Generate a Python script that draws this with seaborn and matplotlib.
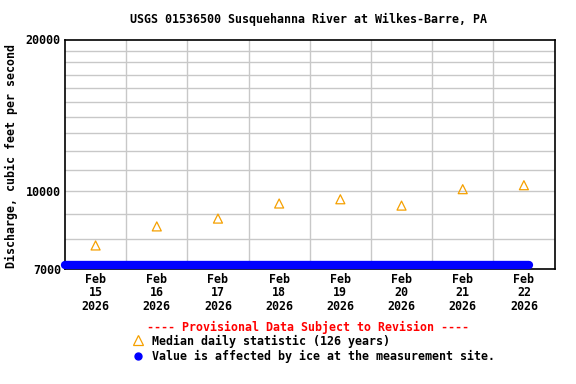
import pandas as pd
import matplotlib
matplotlib.use("Agg")
import matplotlib.pyplot as plt
from matplotlib.lines import Line2D
import seaborn as sns

# Wartosci
days = ["2026-02-15", "2026-02-16", "2026-02-17", "2026-02-18",
        "2026-02-19", "2026-02-20", "2026-02-21", "2026-02-22"]
median_cfs = [7780, 8490, 8800, 9430, 9615, 9340, 10070, 10255]
tick_labels = ["Feb\n15\n2026", "Feb\n16\n2026", "Feb\n17\n2026", "Feb\n18\n2026",
               "Feb\n19\n2026", "Feb\n20\n2026", "Feb\n21\n2026", "Feb\n22\n2026"]
ice_start = "2026-02-15 00:00"
ice_end = "2026-02-22 14:00"
ice_value = 7110  # punkty "ice" rysowane przy dolnej krawedzi
y_min, y_max = 7000, 20000
y_labels = [7000, 10000, 20000]

sns.set_theme(style="white")
plt.rcParams["font.family"] = ["DejaVu Sans Mono"]
plt.rcParams["font.weight"] = "bold"
for k in ["text.color", "axes.labelcolor", "xtick.color", "ytick.color"]:
    plt.rcParams[k] = "black"
fs = 8.4

med = pd.DataFrame({"time": pd.to_datetime(days) + pd.Timedelta(hours=12),
                    "cfs": median_cfs})
ice_t = pd.date_range(ice_start, ice_end, freq="15min")
ice = pd.DataFrame({"time": ice_t, "cfs": [ice_value] * len(ice_t)})

fig = plt.figure(figsize=(5.76, 3.84), dpi=100)
ax = fig.add_axes([65 / 576, 1 - 268.5 / 384, 489.5 / 576, 229 / 384])

ax.set_yscale("log")
ax.set_ylim(y_min, y_max)
start = pd.Timestamp(days[0])
ax.set_xlim(start, start + pd.Timedelta(days=8))

# siatka
for v in range(8000, 20000, 1000):
    ax.axhline(v, color="#c8c8c8", lw=1.0, zorder=0)
for d in range(1, 8):
    ax.axvline(start + pd.Timedelta(days=d), color="#c8c8c8", lw=1.0, zorder=0)

sns.lineplot(data=ice, x="time", y="cfs", ax=ax, color="#0000ff", lw=6,
             solid_capstyle="round", clip_on=False, zorder=5)
sns.scatterplot(data=med, x="time", y="cfs", ax=ax, marker="^", s=42,
                facecolor="none", edgecolor="#f5a000", linewidth=0.9, zorder=6)

ax.yaxis.set_major_locator(matplotlib.ticker.FixedLocator(y_labels))
ax.yaxis.set_minor_locator(matplotlib.ticker.NullLocator())
ax.set_yticklabels([str(v) for v in y_labels], fontsize=fs, fontweight="bold")
ax.set_xticks(med["time"])
ax.set_xticklabels(tick_labels, fontsize=fs, fontweight="bold", linespacing=1.05)
ax.tick_params(length=0, pad=3)
ax.set_xlabel("")
ax.set_ylabel("Discharge, cubic feet per second", fontsize=fs, fontweight="bold", labelpad=5)
ax.yaxis.set_label_coords(-47 / 489.5, 0.49)
for s in ax.spines.values():
    s.set_color("black")
    s.set_linewidth(1.2)

fig.text(308 / 576, 1 - 19 / 384, "USGS 01536500 Susquehanna River at Wilkes-Barre, PA",
         ha="center", va="center", fontsize=fs, fontweight="bold")
fig.text(308 / 576, 1 - 327 / 384, "---- Provisional Data Subject to Revision ----",
         ha="center", va="center", fontsize=fs, fontweight="bold", color="red")
fig.add_artist(Line2D([138 / 576], [1 - 340 / 384], marker="^", ms=7, mfc="none",
                      mec="#f5a000", mew=0.9, ls="none", transform=fig.transFigure))
fig.text(152 / 576, 1 - 341 / 384, "Median daily statistic (126 years)",
         ha="left", va="center", fontsize=fs, fontweight="bold")
fig.add_artist(Line2D([138 / 576], [1 - 356 / 384], marker="o", ms=5, mfc="#0000ff",
                      mec="#0000ff", ls="none", transform=fig.transFigure))
fig.text(152 / 576, 1 - 356 / 384, "Value is affected by ice at the measurement site.",
         ha="left", va="center", fontsize=fs, fontweight="bold")

fig.savefig("out.png", dpi=100)
